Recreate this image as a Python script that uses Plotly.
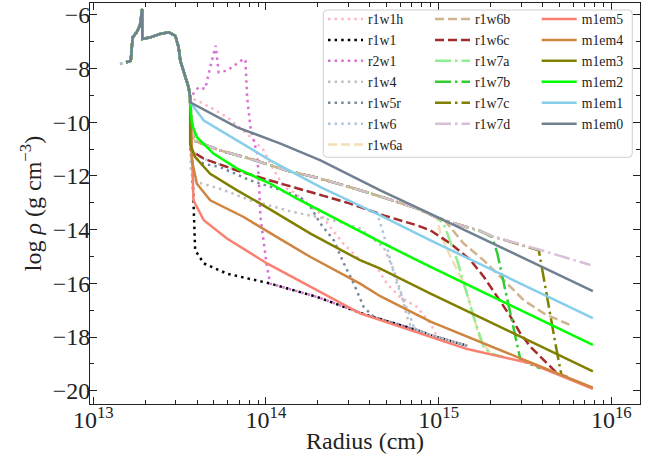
import numpy as np
import plotly.graph_objects as go

# ---------------- data (log10 radius [cm], log10 density [g cm^-3]) ----------------
# shared inner (progenitor) profile
core_lr = [13.190, 13.217, 13.228, 13.251, 13.270, 13.280, 13.283, 13.284, 13.330, 13.388,
           13.437, 13.475, 13.494, 13.504, 13.523, 13.552, 13.561]
core_ld = [-7.77, -7.71, -6.84, -6.65, -6.40, -5.85, -5.78, -6.90, -6.84, -6.71,
           -6.65, -6.78, -7.21, -7.71, -8.08, -8.70, -9.07]
pre_lr = [13.155]
pre_ld = [-7.83]

r1w1h_lr = [13.561, 13.600, 13.677, 13.774, 13.891, 13.987, 14.025, 14.103, 14.160, 14.237, 14.316,
            14.372, 14.448, 14.545, 14.641, 14.700, 14.777, 14.874, 14.952, 14.991, 15.165]
r1w1h_ld = [-9.08, -9.19, -9.44, -9.81, -10.43, -11.05, -11.55, -12.42, -12.60, -13.03, -13.41,
            -13.90, -14.52, -15.14, -15.39, -16.01, -16.51, -16.88, -17.49, -17.99, -18.33]

r1w1_lr = [13.561, 13.580, 13.590, 13.640, 13.774, 14.025, 14.297, 14.585, 14.874, 14.953, 15.165]
r1w1_ld = [-9.23, -12.91, -14.77, -15.26, -15.64, -16.01, -16.51, -17.19, -17.74, -17.93, -18.33]

r2w1_lr = [13.561, 13.609, 13.648, 13.677, 13.709, 13.726, 13.774, 13.871, 13.881, 13.891, 13.910,
           13.949, 13.958, 13.968, 14.006, 14.025, 14.297, 14.585, 14.874, 14.953, 15.165]
r2w1_ld = [-9.08, -8.70, -8.76, -7.96, -7.15, -8.14, -8.08, -7.64, -7.70, -9.07, -10.19,
           -11.17, -12.04, -13.53, -15.39, -16.01, -16.51, -17.19, -17.74, -17.93, -18.33]

r1w4_lr = [13.561, 13.565, 13.600, 13.735, 13.910, 14.025, 14.160, 14.297, 14.432, 14.545, 14.681,
           14.740, 14.778, 14.817, 14.836, 14.874, 14.953, 15.165]
r1w4_ld = [-9.23, -11.90, -12.23, -12.48, -12.91, -13.10, -13.35, -13.53, -13.72, -13.96, -14.65,
           -15.51, -16.26, -17.25, -17.55, -17.74, -17.93, -18.33]

r1w5r_lr = [13.561, 13.571, 13.640, 13.735, 13.910, 14.064, 14.199, 14.258, 14.316, 14.393, 14.451,
            14.508, 14.566, 14.624, 14.874, 14.953, 15.165]
r1w5r_ld = [-9.23, -11.24, -11.55, -11.67, -12.17, -12.48, -12.79, -13.16, -13.78, -14.40, -15.26,
            -16.01, -16.88, -17.25, -17.74, -17.93, -18.33]

r1w6_lr = [13.561, 13.565, 13.640, 13.833, 14.025, 14.218, 14.488, 14.643, 14.681, 14.720, 14.758,
           14.796, 14.836, 14.855, 14.874, 14.953, 15.165]
r1w6_ld = [-9.23, -11.05, -11.36, -11.80, -12.17, -12.54, -13.03, -13.38, -14.15, -15.14, -16.01,
           -16.63, -17.25, -17.62, -17.74, -17.93, -18.33]

r1w6a_lr = [13.561, 13.580, 13.735, 13.928, 14.122, 14.297, 14.488, 14.679, 14.870, 14.990, 15.010,
            15.069, 15.127, 15.165, 15.203, 15.241, 15.300]
r1w6a_ld = [-9.23, -10.68, -11.05, -11.40, -11.80, -12.07, -12.42, -12.80, -13.20, -13.55, -14.15,
            -15.02, -15.76, -16.38, -17.25, -18.12, -18.61]

r1w6b_lr = [13.561, 13.580, 13.735, 13.928, 14.122, 14.297, 14.488, 14.679, 14.870, 14.990, 15.040,
            15.145, 15.260, 15.377, 15.493, 15.609, 15.763]
r1w6b_ld = [-9.23, -10.68, -11.05, -11.40, -11.80, -12.07, -12.42, -12.80, -13.20, -13.55, -13.70,
            -14.52, -15.14, -15.88, -16.63, -17.12, -17.56]

r1w6c_lr = [13.561, 13.565, 13.640, 13.833, 14.025, 14.218, 14.488, 14.681, 14.874, 14.953, 15.069,
            15.185, 15.262, 15.340, 15.417, 15.474, 15.531, 15.609, 15.686, 15.763]
r1w6c_ld = [-9.23, -11.05, -11.36, -11.80, -12.17, -12.54, -13.03, -13.47, -13.84, -14.03, -14.52,
            -15.14, -15.76, -16.51, -17.25, -17.87, -18.36, -18.86, -19.35, -19.54]

r1w7a_lr = [13.561, 13.580, 13.735, 13.928, 14.122, 14.297, 14.488, 14.679, 14.870, 14.990, 15.029,
            15.107, 15.145, 15.203, 15.260, 15.300, 15.377]
r1w7a_ld = [-9.23, -10.68, -11.05, -11.40, -11.80, -12.07, -12.42, -12.80, -13.20, -13.55, -13.78,
            -15.14, -16.01, -17.25, -18.36, -18.61, -18.74]

r1w7b_lr = [13.561, 13.580, 13.735, 13.928, 14.122, 14.297, 14.488, 14.679, 14.870, 14.990, 15.069,
            15.240, 15.311, 15.340, 15.378, 15.417, 15.455, 15.474, 15.590]
r1w7b_ld = [-9.23, -10.68, -11.05, -11.40, -11.80, -12.07, -12.42, -12.80, -13.20, -13.55, -13.72,
            -14.05, -14.28, -14.89, -16.01, -17.25, -18.36, -18.86, -19.17]

r1w7c_lr = [13.561, 13.580, 13.735, 13.928, 14.122, 14.297, 14.488, 14.679, 14.870, 14.990, 15.069,
            15.240, 15.310, 15.580, 15.590, 15.619, 15.647, 15.676, 15.705, 15.715]
r1w7c_ld = [-9.23, -10.68, -11.05, -11.40, -11.80, -12.07, -12.42, -12.80, -13.20, -13.55, -13.72,
            -14.05, -14.25, -14.77, -15.14, -16.26, -17.25, -18.24, -19.23, -19.48]

r1w7d_lr = [13.561, 13.580, 13.735, 13.928, 14.122, 14.297, 14.488, 14.679, 14.870, 14.990, 15.069,
            15.240, 15.310, 15.590, 15.879]
r1w7d_ld = [-9.23, -10.68, -11.05, -11.40, -11.80, -12.07, -12.42, -12.80, -13.20, -13.55, -13.72,
            -14.05, -14.25, -14.76, -15.32]

m1em5_lr = [13.561, 13.571, 13.580, 13.640, 13.774, 14.006, 14.258, 14.545, 14.662, 14.953, 15.165,
            15.531, 15.893]
m1em5_ld = [-9.23, -11.05, -12.91, -13.65, -14.33, -15.26, -16.13, -17.12, -17.37, -17.99, -18.45,
            -18.98, -19.93]

m1em4_lr = [13.561, 13.571, 13.600, 13.677, 13.871, 14.064, 14.258, 14.545, 14.662, 14.953, 15.454, 15.893]
m1em4_ld = [-9.23, -11.42, -12.29, -12.91, -13.53, -14.28, -15.02, -16.01, -16.48, -17.43, -18.74, -19.89]

m1em3_lr = [13.561, 13.561, 13.590, 13.677, 13.833, 13.968, 14.258, 14.545, 14.662, 14.953, 15.893]
m1em3_ld = [-9.23, -10.80, -11.30, -11.92, -12.54, -13.03, -14.15, -15.14, -15.45, -16.38, -19.28]

m1em2_lr = [13.561, 13.571, 13.600, 13.696, 13.833, 14.025, 14.180, 14.662, 14.953, 15.893]
m1em2_ld = [-9.32, -10.06, -10.56, -11.17, -11.73, -12.29, -12.85, -14.46, -15.39, -18.29]

m1em1_lr = [13.561, 13.640, 13.833, 14.025, 14.316, 14.662, 14.953, 15.893]
m1em1_ld = [-9.26, -9.94, -10.68, -11.42, -12.42, -13.47, -14.40, -17.30]

m1em0_lr = [13.561, 13.833, 14.084, 14.316, 14.662, 14.953, 15.893]
m1em0_ld = [-9.26, -10.19, -10.80, -11.42, -12.54, -13.41, -16.29]

x_tickvals = [1e13, 1e14, 1e15, 1e16]
x_ticktext = ["10<sup>13</sup>", "10<sup>14</sup>", "10<sup>15</sup>", "10<sup>16</sup>"]
y_tickvals = [-20, -18, -16, -14, -12, -10, -8, -6]
x_title = "Radius (cm)"
y_title = "log <i>ρ</i> (g cm<sup>−3</sup>)"

# ---------------- styles ----------------
DOT = "2.5px,4.1px"
DASH = "9px,4px"
DASHDOT = "16px,4px,2.5px,4px"

series = [
    # name, lr, ld, color, dash, legend column, prefix
    ("r1w1h", r1w1h_lr, r1w1h_ld, "#FFB6C1", DOT, 1, False),
    ("r1w1", r1w1_lr, r1w1_ld, "#000000", DOT, 1, False),
    ("r2w1", r2w1_lr, r2w1_ld, "#DA70D6", DOT, 1, False),
    ("r1w4", r1w4_lr, r1w4_ld, "#C0C0C0", DOT, 1, False),
    ("r1w5r", r1w5r_lr, r1w5r_ld, "#778899", DOT, 1, True),
    ("r1w6", r1w6_lr, r1w6_ld, "#B0C4DE", DOT, 1, True),
    ("r1w6a", r1w6a_lr, r1w6a_ld, "#F5DEB3", DASH, 1, False),
    ("r1w6b", r1w6b_lr, r1w6b_ld, "#D2B48C", DASH, 2, False),
    ("r1w6c", r1w6c_lr, r1w6c_ld, "#A52A2A", DASH, 2, False),
    ("r1w7a", r1w7a_lr, r1w7a_ld, "#90EE90", DASHDOT, 2, False),
    ("r1w7b", r1w7b_lr, r1w7b_ld, "#32CD32", DASHDOT, 2, False),
    ("r1w7c", r1w7c_lr, r1w7c_ld, "#808000", DASHDOT, 2, False),
    ("r1w7d", r1w7d_lr, r1w7d_ld, "#D8BFD8", DASHDOT, 2, False),
    ("m1em5", m1em5_lr, m1em5_ld, "#FA8072", "solid", 3, False),
    ("m1em4", m1em4_lr, m1em4_ld, "#CD853F", "solid", 3, False),
    ("m1em3", m1em3_lr, m1em3_ld, "#808000", "solid", 3, False),
    ("m1em2", m1em2_lr, m1em2_ld, "#00FF00", "solid", 3, False),
    ("m1em1", m1em1_lr, m1em1_ld, "#87CEEB", "solid", 3, False),
    ("m1em0", m1em0_lr, m1em0_ld, "#708090", "solid", 3, False),
]

FONT = "Liberation Serif"
fig = go.Figure()
legend_ids = {1: "legend", 2: "legend2", 3: "legend3"}
for name, lr, ld, color, dash, col, pre in series:
    xs = (pre_lr if pre else []) + core_lr + lr
    ys = (pre_ld if pre else []) + core_ld + ld
    fig.add_trace(go.Scatter(
        x=10 ** np.array(xs), y=ys, mode="lines", name=name,
        line=dict(color=color, width=2.5, dash=dash),
        legend=legend_ids[col],
    ))

W, H = 663, 459
ML, MR, MT, MB = 90, 23, 3, 55
pw = W - ML - MR
ph = H - MT - MB

def px2paper_x(px):
    return (px - ML) / pw

def px2paper_y(py):
    return 1 - (py - MT) / ph

leg_common = dict(bgcolor="rgba(0,0,0,0)", borderwidth=0, font=dict(family=FONT, size=13.8, color="#222"),
                  xanchor="left", yanchor="top", itemwidth=35)
ytop = px2paper_y(3.5)
fig.update_layout(
    legend=dict(x=px2paper_x(323), y=ytop, **leg_common),
    legend2=dict(x=px2paper_x(430), y=ytop, **leg_common),
    legend3=dict(x=px2paper_x(536.7), y=ytop, **leg_common),
)

# legend frame (rounded)
x0, x1 = px2paper_x(323.3), px2paper_x(632.3)
y0, y1 = px2paper_y(157.3), px2paper_y(10)
dx, dy = 4 / pw, 4 / ph
path = (f"M {x0+dx},{y0} L {x1-dx},{y0} Q {x1},{y0} {x1},{y0+dy} L {x1},{y1-dy} Q {x1},{y1} {x1-dx},{y1} "
        f"L {x0+dx},{y1} Q {x0},{y1} {x0},{y1-dy} L {x0},{y0+dy} Q {x0},{y0} {x0+dx},{y0} Z")
fig.add_shape(type="path", path=path, xref="paper", yref="paper",
              line=dict(color="#D0D0D0", width=1), fillcolor="rgba(255,255,255,0.8)", layer="above")

# x-axis title as an annotation (placed closer to tick labels, like the reference)
fig.add_annotation(text=x_title, xref="paper", yref="paper", x=0.5, y=0, xanchor="center", yanchor="middle",
                   yshift=-37, showarrow=False, font=dict(family=FONT, size=24, color="#222"))

minor_x = [m * 10 ** e for e in (13, 14, 15) for m in range(2, 10)]
axis_common = dict(showline=True, linecolor="#222", linewidth=1, mirror="allticks",
                   ticks="inside", ticklen=7, tickwidth=1, tickcolor="#222",
                   showgrid=False, zeroline=False,
                   tickfont=dict(family=FONT, size=24, color="#222"))
fig.update_xaxes(type="log", range=[12.981, 16.166], tickvals=x_tickvals, ticktext=x_ticktext,
                 minor=dict(ticks="inside", ticklen=4, tickvals=minor_x, tickcolor="#222"),
                 ticklabelstandoff=-6,
                 **axis_common)
fig.update_yaxes(range=[-20.495, -5.56], tickvals=y_tickvals,
                 minor=dict(ticks="inside", ticklen=4, dtick=1, tickcolor="#222"),
                 ticklabelstandoff=-6,
                 title=dict(text=y_title, font=dict(family=FONT, size=24, color="#222"), standoff=4),
                 **axis_common)
fig.update_layout(width=W, height=H, margin=dict(l=ML, r=MR, t=MT, b=MB),
                  paper_bgcolor="white", plot_bgcolor="white", showlegend=True)
fig.write_html("out.html", config={"displayModeBar": False},
               post_script="document.body.style.margin='0px';document.body.style.overflow='hidden';")
